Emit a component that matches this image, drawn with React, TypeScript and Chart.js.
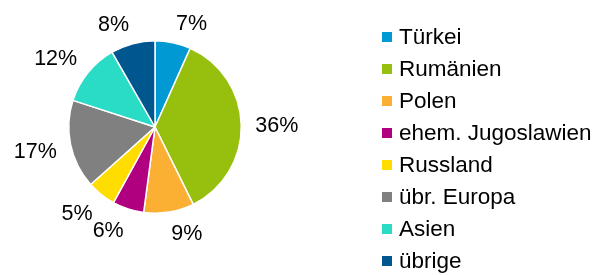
import React, { useEffect, useRef } from "react";
import { Chart, registerables } from "chart.js";

Chart.register(...registerables);

const categories = ["Türkei", "Rumänien", "Polen", "ehem. Jugoslawien", "Russland", "übr. Europa", "Asien", "übrige"];
const shares = [6.7, 36.0, 9.4, 5.9, 5.4, 16.6, 11.7, 8.3];
const colors = ["#0099D3", "#97BF0D", "#FBB034", "#B0007F", "#FFDD00", "#808080", "#2ADBC6", "#00568F"];

const FONT = "Arial, 'Liberation Sans', sans-serif";

const labelPlugin = {
  id: "outsideLabels",
  afterDatasetsDraw(chart: any) {
    const ctx = chart.ctx;
    const meta = chart.getDatasetMeta(0);
    const data = chart.data.datasets[0].data as number[];
    const total = data.reduce((a, b) => a + b, 0);
    ctx.save();
    ctx.font = `21.5px ${FONT}`;
    ctx.fillStyle = "#000";
    ctx.textAlign = "center";
    ctx.textBaseline = "middle";
    meta.data.forEach((arc: any, i: number) => {
      const { x, y, startAngle, endAngle, outerRadius } = arc.getProps(["x", "y", "startAngle", "endAngle", "outerRadius"], true);
      const mid = (startAngle + endAngle) / 2;
      const txt = Math.round((data[i] / total) * 100) + "%";
      const w = ctx.measureText(txt).width;
      const c = Math.cos(mid);
      const s = Math.sin(mid);
      const r = outerRadius + 14;
      const halfH = 6.8 * Math.min(1, Math.abs(s) * 2);
      const lx = x + c * r + Math.sign(c) * (w / 2);
      const ly = y + s * r + Math.sign(s) * halfH + 1.6;
      ctx.fillText(txt, lx, ly);
    });
    ctx.restore();
  },
};

const legendPlugin = {
  id: "sideLegend",
  afterDraw(chart: any) {
    const ctx = chart.ctx;
    const labels = chart.data.labels as string[];
    const bg = chart.data.datasets[0].backgroundColor as string[];
    ctx.save();
    ctx.font = `22.5px ${FONT}`;
    ctx.textAlign = "left";
    ctx.textBaseline = "middle";
    labels.forEach((lab, i) => {
      const cy = 37 + i * 32;
      ctx.fillStyle = bg[i];
      ctx.fillRect(382, cy - 5, 10, 10);
      ctx.fillStyle = "#000";
      ctx.fillText(lab, 399, cy + 1);
    });
    ctx.restore();
  },
};

export default function App() {
  const ref = useRef<HTMLCanvasElement>(null);
  useEffect(() => {
    const chart = new Chart(ref.current!, {
      type: "pie",
      data: {
        labels: categories,
        datasets: [
          {
            data: shares,
            backgroundColor: colors,
            borderColor: "#fff",
            borderWidth: 1.5,
          },
        ],
      },
      options: {
        animation: false,
        responsive: false,
        maintainAspectRatio: false,
        layout: { padding: { left: 68, right: 353, top: 40, bottom: 61 } },
        plugins: {
          legend: { display: false },
          tooltip: { enabled: false },
        },
      },
      plugins: [labelPlugin, legendPlugin],
    });
    return () => chart.destroy();
  }, []);
  return (
    <div style={{ position: "absolute", left: 0, top: 0, width: 595, height: 275, background: "#fff" }}>
      <canvas ref={ref} width={595} height={275} style={{ width: 595, height: 275 }} />
    </div>
  );
}
